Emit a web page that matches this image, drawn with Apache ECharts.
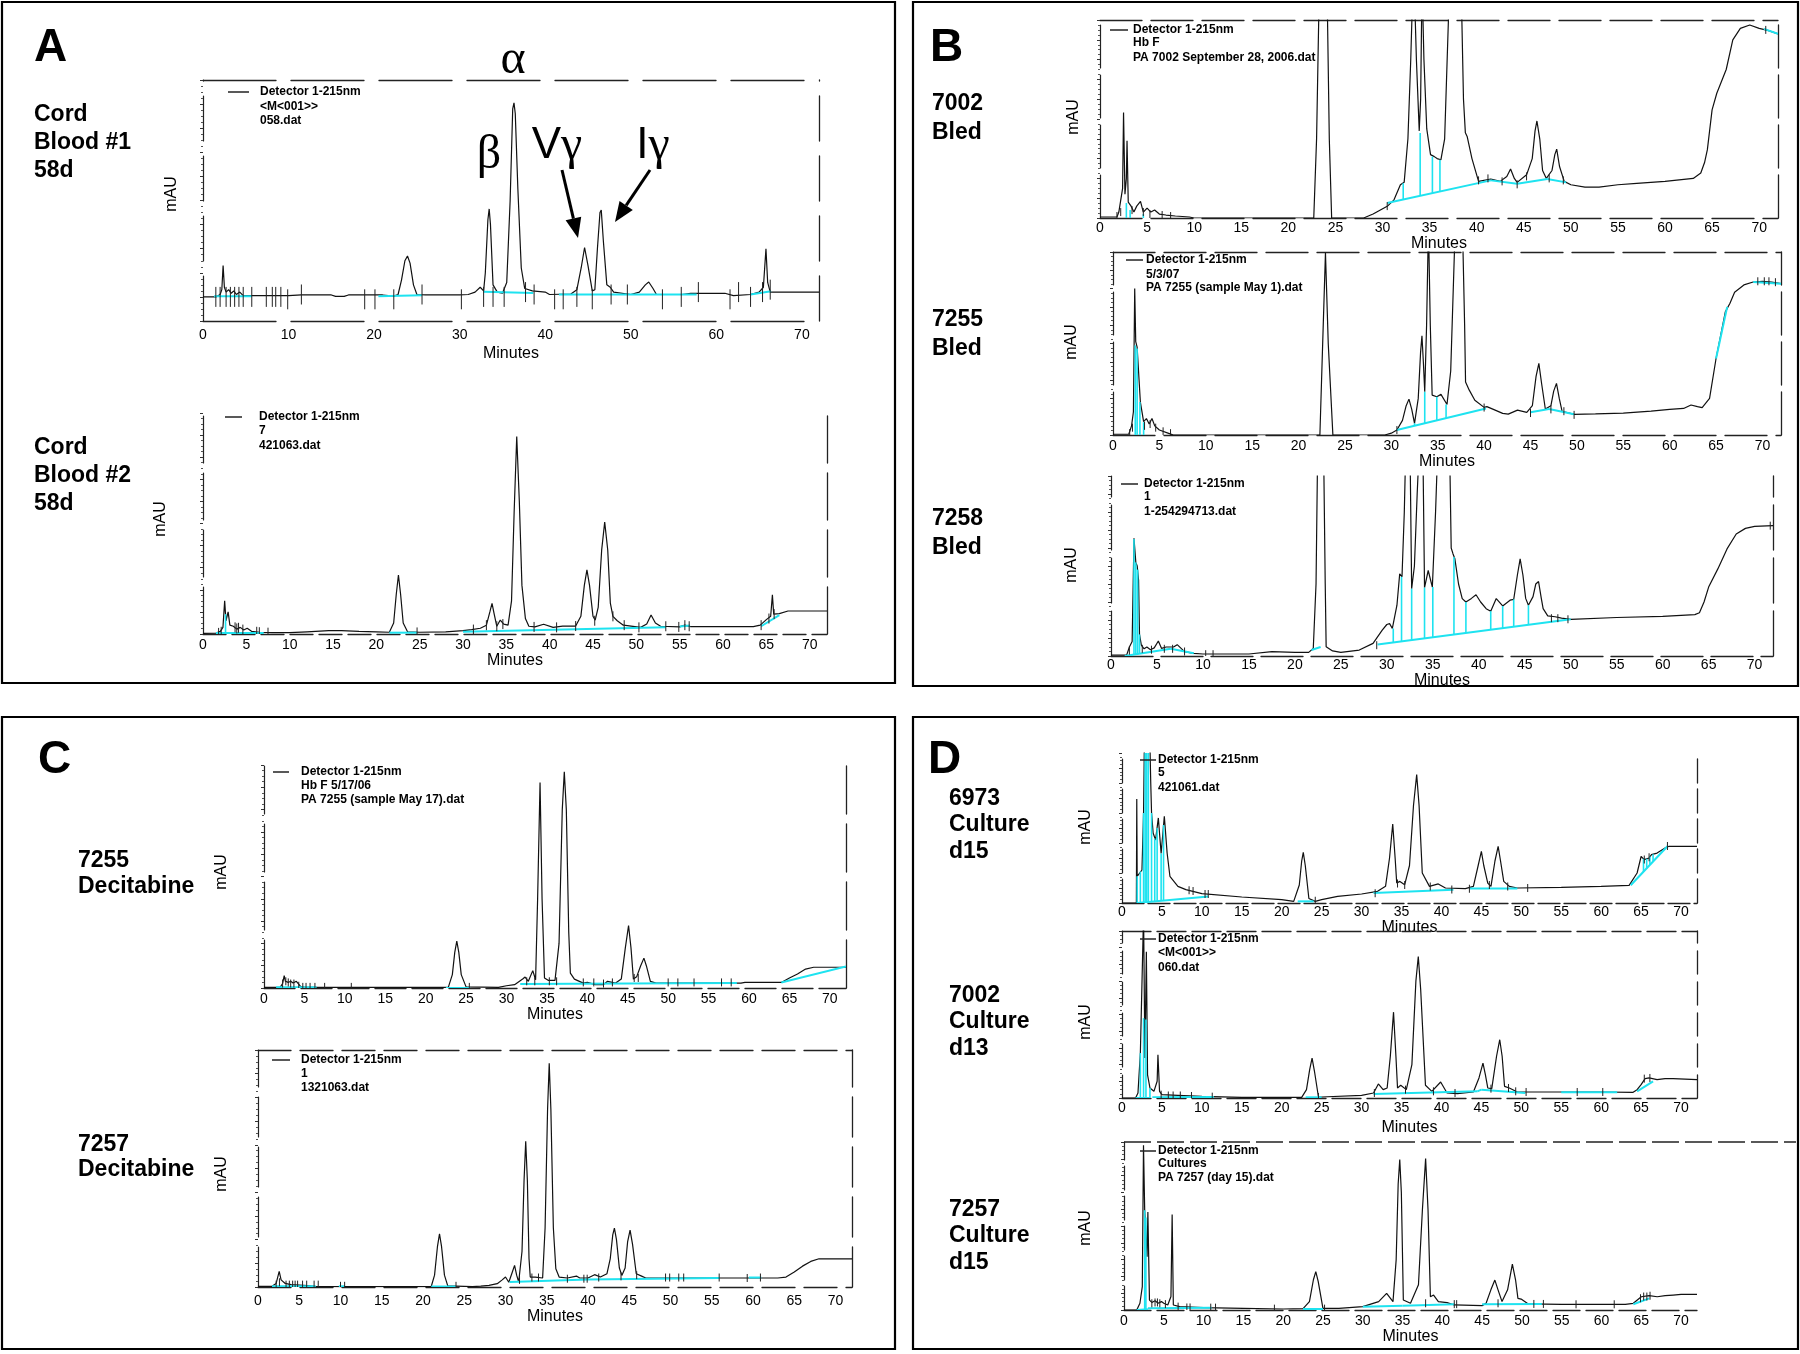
<!DOCTYPE html>
<html><head><meta charset="utf-8">
<script src="https://cdn.jsdelivr.net/npm/echarts@6/dist/echarts.min.js"></script>
<style>html,body{margin:0;padding:0;background:#fff}#c{width:1800px;height:1354px}</style>
</head><body><div id="c"></div>
<script>
// ---------------- DATA (minutes, relative mAU 0-100 of panel height) ----------------
const A1_trace=[[0,10],[1.5,10],[2.0,11],[2.2,13],[2.35,23],[2.5,14],[2.7,12],[3.0,13],[3.3,11.5],[3.6,12.5],[3.9,11],[4.3,12],[4.7,10.5],[6,10.5],[10,10.5],[11.5,10.8],[15,10.8],[15.5,10.2],[16.5,10.2],[17,10.8],[21,10.8],[22.3,10.3],[22.8,11],[23.2,17],[23.6,25],[23.9,27],[24.2,24],[24.6,15],[25,11],[26,10.8],[30,10.8],[31,11],[31.8,12],[32.4,14],[32.8,12.5],[33.0,20],[33.3,42],[33.45,46.5],[33.6,40],[33.9,15],[34.4,12],[35,11.5],[35.5,16],[35.9,50],[36.2,88],[36.35,90.5],[36.5,86],[36.8,55],[37.2,22],[37.6,13.5],[38.5,12.5],[40,12],[40.5,11],[43,11.2],[43.7,13],[44.2,22],[44.6,30.5],[45,23],[45.5,12.5],[45.8,13],[46.1,30],[46.4,45],[46.55,46],[46.8,33],[47.2,15],[47.6,14],[48,12],[50,11],[51,12],[51.7,15],[52.1,16.2],[52.6,13.5],[53,11],[56,11],[57,11.5],[61,11.5],[62,10.5],[64,11],[65,12],[65.5,14],[65.8,30],[66,16],[66.3,12],[72,12]];
const A1_base=[[1.3,10.3,5.7,10.3],[20.5,10.3,25.6,10.7],[32.8,12.1,38.6,11.6],[41.6,11,57.7,11],[64,11,66.4,12.3]];
const A1_drops=[];
const A1_events=[[1.5,10],[2.0,10],[2.7,10],[3.2,10],[3.7,10],[4.2,10],[4.7,10],[5.7,10],[7.4,10],[8.1,10],[8.5,10],[9.1,10],[9.9,9],[11.5,11],[18.9,9],[20.1,9],[22.3,9],[25.6,11],[30.2,9],[32.8,10],[33.9,10],[35.2,10],[37.7,12],[38.7,11],[41.1,9],[42.1,9],[43.7,10],[45.5,9],[47.7,11],[49.6,11],[53.7,9],[55.9,10],[57.9,12],[61.6,9],[62.6,12],[64.0,10],[65.4,12],[66.3,13]];

const A2_trace=[[0,0.3],[1.5,0.4],[2.0,1.2],[2.3,3],[2.5,15],[2.65,6],[2.9,10],[3.1,4],[3.5,3.5],[3.9,2.2],[4.3,3],[4.7,1.8],[5.1,2.6],[5.6,1.2],[6.5,0.8],[8,0.6],[10,0.6],[12,1],[14.5,1.5],[16,1.5],[18,1.2],[20,1],[21.5,0.8],[22.0,5],[22.3,18],[22.55,26.7],[22.8,18],[23.1,5],[23.6,1],[25,0.8],[28,1],[30,1.5],[31,2],[32,2.6],[32.7,4],[33.1,10],[33.35,13.9],[33.6,9],[33.9,3.5],[34.3,6.3],[34.7,4.5],[35.2,4],[35.6,15],[35.9,55],[36.2,89.4],[36.5,60],[36.8,22],[37.2,7],[37.6,3.5],[38.3,3.2],[39.3,4.4],[40.4,3],[41.5,3.6],[43,3.6],[43.6,8],[44.0,22],[44.3,29],[44.6,22],[45.0,8],[45.25,6.3],[45.6,12],[46.0,38],[46.35,50.6],[46.7,38],[47.0,14],[47.3,8],[47.8,6],[48.5,4],[50.5,3],[51.2,4.5],[51.7,8.6],[52.2,5],[52.8,3.5],[55.0,3.2],[55.6,4],[56.3,3.3],[63.5,3.3],[64.3,4],[65,6.5],[65.5,8],[65.7,17.7],[65.85,9],[66.5,9.2],[67.5,10.4],[72,10.4]];
const A2_base=[[1.5,0.5,7,0.5],[21.5,0.6,24.7,0.6],[30,1,53.4,3],[55,3.4,56.2,3.8],[64.4,3.5,66.5,8.5]];
const A2_drops=[[2.6,0.5,9]];
const A2_events=[[1.8,0.5],[2.1,1],[3.7,3],[3.9,2.5],[4.1,2.8],[4.6,2],[6.2,1],[6.5,0.8],[7.5,0.6],[24.7,0.7],[31.2,2],[32.7,4],[33.9,3.5],[34.6,4.5],[38.2,3.2],[40.8,3],[43.0,3.6],[45.2,6],[47.3,8],[48.6,4],[50.3,3],[53.4,3.5],[54.9,3.2],[55.6,4],[56.1,3.5],[64.4,4],[65.3,7],[65.9,9]];

const B1_trace=[[0,0.5],[0.1,1.5],[0.2,0.5],[1.8,0.5],[2.0,3],[2.2,4],[2.4,15],[2.5,53.3],[2.65,12],[2.8,20],[2.87,39],[3.0,8],[3.3,6],[3.6,3],[3.9,6],[4.3,8.4],[4.6,3],[5.0,5],[5.4,3],[5.8,4],[6.3,2],[7,1.5],[8,1],[9.5,0.5],[10,0],[22.7,0],[23.0,40],[23.3,120],[23.7,135],[24.1,120],[24.35,40],[24.6,0],[28.0,0],[29,2],[30.5,5.9],[31.2,9],[31.9,16.8],[32.3,18],[32.7,40],[33.0,80],[33.3,130],[33.6,80],[33.9,44],[34.05,60],[34.2,120],[34.4,80],[34.7,45],[35.1,32],[35.5,31],[35.8,30],[36.2,29.4],[36.6,40],[37.0,100],[37.3,130],[38.3,130],[38.6,60],[38.8,43],[39.0,41],[39.5,30],[40.2,18.5],[41.5,19.7],[42.5,18.5],[43.2,21],[43.6,24.7],[44.0,20],[44.3,18],[45.3,21.8],[45.9,30],[46.2,44],[46.4,49],[46.7,40],[47.0,24],[47.4,20],[48.0,24],[48.3,32],[48.5,34.8],[48.8,26],[49.3,18.5],[50,16.8],[51.5,15.6],[53,15.6],[55,16.8],[57,17.5],[60,18.5],[63,20],[63.8,22.7],[64.2,28],[64.5,34.5],[65,54.6],[65.5,63],[66.5,75],[67.2,90],[68,95.8],[69,97.5],[70,95.8],[71,94.6],[72,93]];
const B1_base=[[30.5,7.6,41.5,19],[41.5,19,44.3,17.3],[44.3,17.3,47.5,19.7],[47.5,19.7,49.5,18],[70.5,95.5,72,93]];
const B1_drops=[[2.8,0,7.6],[3.2,0,4],[4.6,0,2],[32.2,9.4,17.6],[34.0,11.2,42.9],[35.3,12.6,31],[36.1,13.4,29.4]];
const B1_events=[[1.8,1],[2.2,3],[3.4,4],[4.6,3],[5.3,2],[6.6,1.5],[7.5,1],[30.5,6],[40.2,19],[41.2,20],[42.7,18.5],[44.3,17],[45.3,21],[47.7,20],[49.2,19],[70.7,95]];

const B2_trace=[[0,0.4],[1.7,0.4],[2.0,5],[2.2,12.7],[2.34,80],[2.45,51],[2.6,48],[2.7,47.3],[2.95,18],[3.3,7.3],[3.6,9],[3.9,6],[4.2,9],[4.5,5],[5.0,2.7],[6.0,0.9],[6.5,0],[22.3,0],[22.6,50],[22.9,99.6],[23.2,50],[23.7,0],[29.3,0],[30.0,1],[30.6,2.7],[31.2,8],[31.6,16],[31.9,19.6],[32.2,14],[32.5,6.4],[32.9,20],[33.15,45],[33.3,54.2],[33.45,40],[33.6,23.6],[33.8,60],[34.0,115],[34.2,60],[34.4,21.8],[34.9,20.9],[35.35,22.2],[36.0,16.7],[36.4,35],[36.8,100],[37.0,130],[37.6,130],[37.9,60],[38.0,29],[38.4,24.5],[39.0,19],[40.0,15.1],[40.3,15.5],[41,14],[42,11.8],[42.6,11.4],[43.6,13.6],[44.6,12.4],[45.2,16],[45.6,32],[45.9,39.1],[46.2,28],[46.6,14.2],[47.2,16],[47.5,24],[47.8,28.2],[48.1,20],[48.4,13],[49.7,11.3],[52,11.5],[55,12],[58,13],[60,14],[61.5,14.5],[62.3,16.4],[63.0,15.5],[63.5,15],[64.3,20],[65,41.8],[66,67.3],[66.5,72],[67,78],[68,82],[69,83.6],[70,84],[71,83.5],[72,82.7]];
const B2_base=[[30.6,2.7,40.2,14.5],[45,12.4,47,14.2],[47,14.2,49.7,11.3],[65,41.8,66.2,70],[69,83.6,72,82.7]];
const B2_drops=[[2.4,0,49],[2.6,0,47.3],[2.9,0,18],[3.3,0,7],[32.5,5.0,6.4],[33.6,6.4,23.6],[34.9,8,20.9],[35.9,9.2,16.7]];
const B2_events=[[1.8,1],[2.1,4],[3.4,5],[4.0,6],[4.6,4],[5.4,2],[6.2,1],[30.6,2.7],[40.0,15],[45.0,12],[47.2,14],[48.6,13],[49.7,11],[69.5,84],[70.2,84],[70.7,84],[71.4,83.5]];

const B3_trace=[[0,0.5],[1.7,0.5],[2.0,5],[2.3,8],[2.5,65.4],[2.7,52],[2.85,50],[3.0,42],[3.1,12],[3.3,6],[3.6,4],[3.9,5],[4.3,3.5],[4.7,4.5],[5.15,8.3],[5.5,4.2],[6.0,5],[6.8,5],[7.2,6.3],[8.0,2.4],[9,1.5],[10,1.1],[15,1.1],[17.5,2.4],[20,2],[21.5,2],[22.0,4.2],[22.3,40],[22.5,125],[23.1,125],[23.3,40],[23.4,5.2],[24.1,2.8],[25,2],[27,3.3],[28.5,7],[29.5,14.4],[30.0,17.5],[30.3,18],[30.6,15.3],[31.1,28.2],[31.4,45.7],[31.65,44],[31.9,80],[32.1,125],[32.5,125],[32.7,37.4],[33.0,50],[33.3,90],[33.6,125],[33.9,125],[34.1,38],[34.5,47.5],[34.95,38.3],[35.3,80],[35.6,125],[36.8,125],[37.0,60],[37.2,56.7],[37.4,54],[37.8,40],[38.2,31.9],[38.6,30],[39.2,32],[39.7,34],[40.2,30],[40.8,26.3],[41.3,24.9],[41.9,31.9],[42.6,27.8],[43.4,31],[43.8,31.5],[44.2,45],[44.5,54],[44.8,45],[45.1,32],[45.4,28.2],[45.9,33],[46.2,40],[46.5,41.4],[46.8,32],[47.0,26.3],[47.5,22.3],[48.3,21.8],[49,21],[50,20.4],[55,21.4],[60,22],[63.5,23],[64,24],[64.5,30],[65,38.3],[66,48.4],[67,59.5],[68,67.8],[69,70.9],[70,72],[72,72.4]];
const B3_base=[[1.5,0,6.5,4],[6.5,4,9,1.5],[21.8,3.3,22.8,5],[29,6.4,50,20.4]];
const B3_drops=[[2.5,0.8,65],[2.7,0.9,52],[2.9,1,48],[3.1,1.1,12],[30.7,7.5,15.3],[31.6,8.1,44],[32.7,8.9,37.4],[34.1,9.8,38],[35.0,10.4,38.3],[37.3,11.9,55],[38.6,12.8,30],[41.3,14.6,24.9],[42.6,15.5,27.8],[43.8,16.3,31.5],[45.4,17.3,28.2]];
const B3_events=[[2.0,3],[3.4,4],[4.4,3.5],[5.8,4],[6.7,4],[8.0,2.5],[10.3,1],[11.1,1],[28.9,6],[47.9,21],[48.6,21],[49.7,20.4],[71.7,72.4]];

const C1_trace=[[0,0.3],[2.0,0.3],[2.3,2],[2.5,5.5],[2.65,3],[2.8,3.7],[3.0,2.5],[3.3,3],[3.6,2.2],[4.0,3],[4.5,0.8],[5.0,0.3],[22.8,0.3],[23.3,6],[23.6,16],[23.85,21],[24.1,16],[24.4,6],[25,0.5],[29,0.3],[30,1],[31,1.5],[32,4],[32.3,4.9],[32.7,3],[33.25,7.8],[33.6,3.7],[33.85,40],[34.15,92.2],[34.4,40],[34.7,4.5],[35.2,3.4],[36,3.4],[36.5,20],[36.9,80],[37.15,97],[37.4,80],[37.7,25],[37.9,6.7],[38.4,4],[39.5,2.2],[40,2.5],[41,1.5],[42,1.5],[42.5,3],[43.5,2.2],[44.2,4],[44.7,18],[45.1,28],[45.4,18],[45.7,4],[46.1,5],[46.6,10],[47.0,13.4],[47.3,10],[47.8,3],[48.5,2.2],[59,2.2],[59.5,2.5],[64,2.5],[65,4.5],[66,6.3],[67,8.5],[68,9.3],[72,9.3]];
const C1_base=[[1.5,0.3,6.5,0.3],[22.5,0,25.5,0],[31.7,1.8,58.5,2.2],[64,2.5,72,9.7]];
const C1_drops=[];
const C1_events=[[2.3,2],[2.7,3],[3.0,2.5],[3.3,2],[3.7,2],[4.3,1],[4.8,0.5],[5.2,0.5],[5.7,0.5],[6.3,0.5],[7.5,0.5],[10.8,0.5],[25.4,0.5],[32.5,3],[33.5,3],[35.3,3],[36.2,3],[39.5,2.5],[40.8,2.5],[42,2],[43.1,2.5],[45.8,4.5],[46.3,4.5],[50,2.5],[51.2,2.5],[53.2,2.5],[56.6,2.5],[57.8,2.5]];

const C2_trace=[[0,0.3],[1.7,0.3],[2.2,1.5],[2.57,6.6],[2.8,3],[3.0,3.5],[3.3,1.5],[4,1],[6,0.6],[7,0.2],[21,0.2],[21.4,5],[21.75,17],[22.0,22.4],[22.25,17],[22.6,5],[23,0.5],[26,0.2],[27,0.4],[28,0.7],[29,1.4],[29.6,3],[30.0,4.2],[30.4,2],[30.8,6],[31.1,9.1],[31.35,5],[31.6,2.1],[32.0,15],[32.25,45],[32.45,61.5],[32.65,45],[32.85,12],[33.0,4.2],[33.6,4.2],[34.5,3.8],[34.8,25],[35.1,75],[35.3,94.4],[35.5,75],[35.8,25],[36.1,7.7],[36.5,4.2],[37.5,3.8],[38.6,4.6],[39,3.8],[40,3.8],[40.8,5.2],[41.5,4.2],[42.3,5.6],[42.7,12],[43.0,22],[43.2,24.8],[43.45,20],[43.8,8],[44.1,4.9],[44.5,8],[44.8,19],[45.1,24],[45.4,18],[45.85,5.6],[46.5,4.6],[47,3.8],[63,3.8],[64,4.2],[65,6.3],[66,8.8],[67,10.8],[68,11.9],[72,11.9]];
const C2_base=[[1.7,0.3,7,0.3],[9.8,0.3,10.5,0.3],[21,0.2,24,0.2],[30.5,2.1,40,3.2],[40,3.2,56,3.8],[59.5,4,61,4]];
const C2_drops=[];
const C2_events=[[2.2,1],[2.6,2],[3.4,1],[3.8,1],[4.2,1],[4.5,1],[4.8,1],[5.4,1],[5.9,1],[6.8,1],[7.3,1],[10.0,0.5],[10.5,0.5],[24,0.5],[31.7,3],[33.2,4],[34.0,4],[37.5,3.5],[39.5,3.5],[39.9,3.5],[41.3,4],[44.0,4.5],[45.9,5],[49.4,4],[49.9,4],[51.0,4],[51.6,4],[55.9,4],[59.3,3.8],[60.9,4]];

const D1_trace=[[0,0],[1.8,0],[1.85,69.3],[1.9,17.8],[2.0,19],[2.5,22],[2.7,60],[2.85,130],[3.4,130],[3.6,80],[3.7,60],[3.9,46.7],[4.2,42],[4.55,56.7],[4.9,33],[5.3,57.8],[5.65,33.3],[6.0,17.8],[7,11.1],[8,8.9],[10,6.2],[15,4],[20,2.2],[21.5,1.1],[22.2,12],[22.5,28],[22.7,33.8],[22.95,25],[23.4,3],[24.2,1.1],[25,2.2],[27,4.4],[30,6],[32,7.8],[33,11.1],[33.5,30],[33.9,52.7],[34.2,30],[34.4,13.3],[34.8,14.4],[35.4,12.2],[36.0,25],[36.5,65],[36.9,85.6],[37.2,65],[37.6,20],[38.5,11.1],[39.6,12.7],[40.5,10],[43,9.6],[44,11.1],[44.6,25],[45.0,34.4],[45.3,25],[45.8,13.3],[46.2,11.1],[46.7,28],[47.1,37.8],[47.4,28],[47.8,14.4],[48.5,11.1],[49.5,10],[55,10.4],[60,11.1],[63.5,11.8],[64.5,20],[65,31],[65.4,28.9],[66,30],[66.3,32.2],[67,33.3],[68,36.7],[68.5,37.8],[72,37.8]];
const D1_base=[[1.9,0,10.8,4.4],[22,1.1,24,1.1],[31.5,6.7,41.5,8.9],[43.5,9.6,49.5,9.6],[63.7,11.8,68.3,37.8]];
const D1_drops=[[1.9,0,17.8],[2.3,0.2,21],[2.7,0.4,60],[2.9,0.5,130],[3.1,0.6,130],[3.3,0.7,130],[3.7,0.9,60],[4.1,1.1,43],[4.4,1.2,50],[4.9,1.5,33],[5.2,1.6,52],[65.3,20.8,29.5],[65.7,23.1,29.5],[66.1,25.4,31],[66.5,27.6,32.5]];
const D1_events=[[8.4,8.5],[8.9,8],[10.4,6],[10.8,6],[24.2,1.5],[31.7,6.5],[34.5,13],[35.4,12],[38.6,11],[41.3,9],[43.5,9.5],[46.0,12],[48.3,11],[50.8,10],[65.4,29],[66,30.5],[68.3,38]];

const D2_trace=[[0,0],[1.7,0],[2.0,3],[2.3,26.9],[2.5,27.9],[2.7,110],[2.87,23.9],[3.05,87.6],[3.2,13.9],[3.5,6],[4,4],[4.4,10],[4.5,25.9],[4.7,4],[5,2],[7,1.6],[10,1],[15,0.4],[22.5,0.4],[23.1,5],[23.5,17],[23.8,23.9],[24.1,16],[24.6,0.6],[25,0.6],[30,1.6],[31.5,3],[32.1,8.4],[32.7,5],[33.2,6],[33.6,25],[34.0,51.4],[34.3,25],[34.5,6],[34.9,7.6],[35.6,5],[36.3,20],[36.8,70],[37.1,84.7],[37.4,65],[38.0,7.6],[38.8,4],[39.9,9.6],[40.7,3],[42,2.6],[44,3.6],[44.7,12],[45.2,20.9],[45.5,14],[45.8,6],[46.3,5.6],[46.9,25],[47.3,34.9],[47.6,25],[47.9,7],[48.5,6],[49.5,3.6],[60,3.6],[64,3.4],[64.5,5],[65,8],[65.5,11.6],[66,12],[67,11],[68,11.6],[69,11.6],[72,11]];
const D2_base=[[1.7,0,3.5,0],[3.8,0.4,11.5,0.6],[23,0.4,25,0.4],[31.5,2.4,44.5,4],[44.5,4,45,5],[45,5,50.5,3],[55,3.4,62,3.4],[64.5,4,66.5,10]];
const D2_drops=[[2.3,0,26.9],[2.7,0,47.8],[3.0,0,47],[3.5,0.2,6]];
const D2_events=[[4.9,2],[5.8,1.5],[6.4,1.5],[7.3,1.5],[8.7,1.2],[11.3,0.8],[24.6,0.6],[31.6,3],[35.5,5],[39.0,4],[41.7,3],[46.2,5.6],[48.4,6],[49.3,4],[50.6,3.6],[57,3.6],[60.2,3.6],[65.4,11.6],[66.1,12]];

const D3_trace=[[0,0],[1.6,0],[1.7,1],[2.0,4],[2.3,13.9],[2.45,98],[2.6,59.4],[2.75,60.4],[2.9,31.7],[3.0,58.4],[3.2,5.9],[3.5,4.5],[3.9,5.5],[4.3,4],[4.7,5],[5.0,4],[5.5,3],[5.9,8],[6.05,56.8],[6.2,3],[7,2],[10,1.4],[15,1],[20,0.6],[22.5,0.8],[23.3,5],[23.8,18],[24.1,22.8],[24.4,17],[25,1],[27,1],[30,2],[32,5],[33.0,9.9],[33.8,5],[34.2,30],[34.45,75],[34.65,89.5],[34.85,70],[35.1,6],[36,4],[37.0,15],[37.5,60],[37.9,90.1],[38.2,60],[38.5,7.9],[38.9,8.9],[39.5,5],[40.6,4.4],[41.5,3],[45,2.6],[45.5,4],[46.1,12],[46.6,17.8],[47.0,12],[47.5,5],[48.2,12],[48.8,27.3],[49.2,18],[49.5,6.9],[49.9,6.5],[50.8,3.6],[55,3.4],[63,3.4],[64,4],[65,7.9],[66,8.5],[67,7.9],[68,8.5],[69,8.9],[70,9.3],[72,9.3]];
const D3_base=[[1.6,0,3,0.4],[3,1,11,1.4],[22.5,0.6,25,0.6],[30,2,35,2.6],[35,2.6,41.5,3.4],[45,3.4,52.5,3.6],[64,3.4,66,6.9]];
const D3_drops=[[2.6,0.2,59.4],[2.75,0.3,55]];
const D3_events=[[3.5,4],[3.9,4.5],[4.2,4.5],[4.5,4],[5.2,3.5],[6.8,2],[7.9,1.5],[8.3,1.5],[10.9,1.4],[11.5,1.4],[18.9,0.8],[25.2,0.8],[37.9,4],[41.5,3.5],[41.8,3.5],[47.0,4],[51.5,3.6],[52.7,3.6],[56.8,3.4],[61.6,3.4],[64.9,7],[65.3,8],[65.7,8],[66.1,8.5]];

// text content
const legendA1=['Detector 1-215nm','<M<001>>','058.dat'];
const legendA2=['Detector 1-215nm','7','421063.dat'];
const legendB1=['Detector 1-215nm','Hb F','PA 7002 September 28, 2006.dat'];
const legendB2=['Detector 1-215nm','5/3/07','PA 7255 (sample May 1).dat'];
const legendB3=['Detector 1-215nm','1','1-254294713.dat'];
const legendC1=['Detector 1-215nm','Hb F 5/17/06','PA 7255 (sample May 17).dat'];
const legendC2=['Detector 1-215nm','1','1321063.dat'];
const legendD1=['Detector 1-215nm','5','421061.dat'];
const legendD2=['Detector 1-215nm','<M<001>>','060.dat'];
const legendD3=['Detector 1-215nm','Cultures','PA 7257 (day 15).dat'];
const sampleLabels=['Cord\nBlood #1\n58d','Cord\nBlood #2\n58d','7002\nBled','7255\nBled','7258\nBled','7255\nDecitabine','7257\nDecitabine','6973\nCulture\nd15','7002\nCulture\nd13','7257\nCulture\nd15'];
const panelLetters=['A','B','C','D'];
const peakNames=[['','α'],['','β'],['V','γ'],['I','γ']];
const xMin=0, xMax=72;

// ---------------- LAYOUT / STYLE ----------------
const F='"Liberation Sans", Arial, Helvetica, sans-serif';
const FS='"Liberation Serif", "Times New Roman", serif';
const CYAN='#1ee3f0';
const plots=[
 {trace:A1_trace,base:A1_base,drops:A1_drops,events:A1_events,legend:legendA1,evLen:20,xStep:10,
  g:[203,80,616,241],top:true,right:true,dx:[73,15],dy:[45,15],lm:7,ng:25,lg:[228,249,260,[92,107,121]],mau:[172,194],lab:[34,101,28]},
 {trace:A2_trace,base:A2_base,drops:A2_drops,events:A2_events,legend:legendA2,evLen:10,xStep:5,
  g:[203,413,624,221],top:false,right:true,dx:[23,6],dy:[47,10],lm:4,ng:19,lg:[225,242,259,[417,431,446]],mau:[161,519],lab:[34,434,28]},
 {trace:B1_trace,base:B1_base,drops:B1_drops,events:B1_events,legend:legendB1,evLen:8,xStep:5,
  g:[1100,20,678,198],top:true,right:true,dx:[42,9],dy:[43,7],lm:3,ng:14,lg:[1110,1128,1133,[30,43,58]],mau:[1074,117],lab:[932,89,29]},
 {trace:B2_trace,base:B2_base,drops:B2_drops,events:B2_events,legend:legendB2,evLen:8,xStep:5,
  g:[1113,252,668,183],top:true,right:true,dx:[42,9],dy:[43,7],lm:4,ng:14,lg:[1126,1143,1146,[260,275,288]],mau:[1072,342],lab:[932,305,29]},
 {trace:B3_trace,base:B3_base,drops:B3_drops,events:B3_events,legend:legendB3,evLen:8,xStep:5,
  g:[1111,476,662,180],top:false,right:true,dx:[42,8],dy:[45,8],lm:2,ng:15,lg:[1121,1138,1144,[484,497,512]],mau:[1072,565],lab:[932,504,29]},
 {trace:C1_trace,base:C1_base,drops:C1_drops,events:C1_events,legend:legendC1,evLen:8,xStep:5,
  g:[264,765,582,223],top:false,right:true,dx:[31,6],dy:[48,10],lm:4,ng:18,lg:[273,289,301,[772,786,800]],mau:[222,872],lab:[78,848,26]},
 {trace:C2_trace,base:C2_base,drops:C2_drops,events:C2_events,legend:legendC2,evLen:8,xStep:5,
  g:[258,1050,594,237],top:true,right:true,dx:[33,9],dy:[40,10],lm:7,ng:20,lg:[272,290,301,[1060,1074,1088]],mau:[222,1174],lab:[78,1132,25]},
 {trace:D1_trace,base:D1_base,drops:D1_drops,events:D1_events,legend:legendD1,evLen:8,xStep:5,
  g:[1122,753,575,150],top:false,right:true,dx:[22,4],dy:[24,6],lm:2,ng:10,lg:[1140,1156,1158,[760,773,788]],mau:[1086,827],lab:[949,785,26.5]},
 {trace:D2_trace,base:D2_base,drops:D2_drops,events:D2_events,legend:legendD2,evLen:8,xStep:5,
  g:[1122,931,575,167],top:true,right:true,dx:[29,6],dy:[23,8],lm:3,ng:22,lg:[1140,1156,1158,[939,953,968]],mau:[1086,1022],lab:[949,982,26.5]},
 {trace:D3_trace,base:D3_base,drops:D3_drops,events:D3_events,legend:legendD3,evLen:8,xStep:5,
  g:[1124,1142,573,168],top:false,right:false,dx:[27,6],dy:[24,6],lm:4,ng:19,lg:[1140,1156,1158,[1151,1164,1178]],mau:[1086,1228],lab:[949,1196,26.5]}
];

const grids=[],xAxes=[],yAxes=[],series=[],els=[];
plots.forEach((p,i)=>{
  grids.push({left:p.g[0],top:p.g[1],width:p.g[2],height:p.g[3],containLabel:false});
  const xi=xAxes.length;
  xAxes.push({type:'value',gridIndex:i,min:xMin,max:xMax,interval:p.xStep,position:'bottom',
    axisLine:{show:true,onZero:false,lineStyle:{color:'#222',width:1.3,type:p.dx}},
    axisTick:{show:false},splitLine:{show:false},
    axisLabel:{show:true,margin:p.lm,fontSize:14,color:'#000',fontFamily:F,showMaxLabel:false,
      formatter:v=>(v%p.xStep===0?String(v):'')},
    name:'Minutes',nameLocation:'middle',nameGap:p.ng,nameTextStyle:{fontSize:16,fontFamily:F,color:'#000'}});
  if(p.top) xAxes.push({type:'value',gridIndex:i,min:xMin,max:xMax,position:'top',
    axisLine:{show:true,onZero:false,lineStyle:{color:'#222',width:1.3,type:p.dx}},
    axisTick:{show:false},axisLabel:{show:false},splitLine:{show:false}});
  const yi=yAxes.length;
  yAxes.push({type:'value',gridIndex:i,min:0,max:100,interval:10,position:'left',
    axisLine:{show:true,onZero:false,lineStyle:{color:'#222',width:1.2,type:p.dy}},
    axisTick:{show:true,length:3,lineStyle:{color:'#333'}},
    minorTick:{show:true,splitNumber:4,length:2,lineStyle:{color:'#555'}},
    axisLabel:{show:false},splitLine:{show:false}});
  if(p.right) yAxes.push({type:'value',gridIndex:i,min:0,max:100,position:'right',
    axisLine:{show:true,onZero:false,lineStyle:{color:'#222',width:1.3,type:p.dy}},
    axisTick:{show:false},axisLabel:{show:false},splitLine:{show:false}});

  series.push({type:'line',xAxisIndex:xi,yAxisIndex:yi,data:p.trace,symbol:'none',showSymbol:false,
    lineStyle:{color:'#111',width:1.2},clip:true,z:3,silent:true});
  series.push({type:'custom',xAxisIndex:xi,yAxisIndex:yi,data:p.base,encode:{x:[0,2],y:[1,3]},clip:true,z:4,silent:true,
    renderItem:(params,api)=>{const a=api.coord([api.value(0),api.value(1)]),b=api.coord([api.value(2),api.value(3)]);
      return {type:'line',shape:{x1:a[0],y1:a[1],x2:b[0],y2:b[1]},style:{stroke:CYAN,lineWidth:2}};}});
  series.push({type:'custom',xAxisIndex:xi,yAxisIndex:yi,data:p.drops,encode:{x:0,y:[1,2]},clip:true,z:4,silent:true,
    renderItem:(params,api)=>{const a=api.coord([api.value(0),api.value(1)]),b=api.coord([api.value(0),api.value(2)]);
      return {type:'line',shape:{x1:a[0],y1:a[1],x2:b[0],y2:b[1]},style:{stroke:CYAN,lineWidth:1.6}};}});
  const L=p.evLen;
  series.push({type:'custom',xAxisIndex:xi,yAxisIndex:yi,data:p.events,encode:{x:0,y:1},clip:true,z:5,silent:true,
    renderItem:(params,api)=>{const a=api.coord([api.value(0),api.value(1)]);
      return {type:'line',shape:{x1:a[0],y1:a[1]-L/2,x2:a[0],y2:a[1]+L/2},style:{stroke:'#222',lineWidth:1}};}});

  // legend
  els.push({type:'line',shape:{x1:p.lg[0],y1:p.lg[3][0],x2:p.lg[1],y2:p.lg[3][0]},style:{stroke:'#222',lineWidth:1.5}});
  p.legend.forEach((t,k)=>els.push({type:'text',x:p.lg[2],y:p.lg[3][k],
    style:{text:t,fontSize:12,fontWeight:'bold',fontFamily:F,fill:'#000',align:'left',verticalAlign:'middle'}}));
  // mAU
  els.push({type:'text',x:p.mau[0],y:p.mau[1],rotation:Math.PI/2,
    style:{text:'mAU',fontSize:16,fontFamily:F,fill:'#000',align:'center',verticalAlign:'middle'}});
  // sample label
  els.push({type:'text',x:p.lab[0],y:p.lab[1],
    style:{text:sampleLabels[i],fontSize:23,fontWeight:'bold',fontFamily:F,fill:'#000',align:'left',verticalAlign:'top',lineHeight:p.lab[2]}});
});

// panel frames and letters
const frames=[[2,2,893,681],[913,2,885,684],[2,717,893,632],[913,717,885,632]];
const letterPos=[[34,48],[930,48],[38,760],[928,760]];
frames.forEach((r,k)=>{
  els.push({type:'rect',shape:{x:r[0],y:r[1],width:r[2],height:r[3]},style:{fill:'none',stroke:'#000',lineWidth:2.2}});
  els.push({type:'text',x:letterPos[k][0],y:letterPos[k][1],style:{text:panelLetters[k],fontSize:46,fontWeight:'bold',fontFamily:F,fill:'#000',align:'left',verticalAlign:'middle'}});
});
// D3 top dashed rule extending to the panel edge
els.push({type:'line',shape:{x1:1124,y1:1142,x2:1796,y2:1142},style:{stroke:'#222',lineWidth:1.3,lineDash:[27,6]}});

// annotations in panel A (Latin part sans, Greek part serif)
const annPos=[[513,60],[489,155],[557,146],[653,146]];
peakNames.forEach((nm,k)=>{
  const txt=(nm[0]?'{s|'+nm[0]+'}':'')+'{g|'+nm[1]+'}';
  els.push({type:'text',x:annPos[k][0],y:annPos[k][1],style:{text:txt,align:'center',verticalAlign:'middle',fill:'#000',
    rich:{s:{fontSize:44,fontFamily:F,fill:'#000'},g:{fontSize:48,fontFamily:FS,fill:'#000'}}}});
});
function arrow(x1,y1,x2,y2){const an=Math.atan2(y2-y1,x2-x1),H=20,W=8;const bx=x2-H*Math.cos(an),by=y2-H*Math.sin(an);
  const nx=-Math.sin(an),ny=Math.cos(an);
  els.push({type:'line',shape:{x1:x1,y1:y1,x2:bx,y2:by},style:{stroke:'#000',lineWidth:3}});
  els.push({type:'polygon',shape:{points:[[x2,y2],[bx+nx*W,by+ny*W],[bx-nx*W,by-ny*W]]},style:{fill:'#000'}});}
arrow(562,170,578,238);
arrow(650,170,615,222);

const chart=echarts.init(document.getElementById('c'),null,{renderer:'canvas'});
chart.setOption({animation:false,backgroundColor:'#fff',grid:grids,xAxis:xAxes,yAxis:yAxes,series:series,
  graphic:{elements:els.map(e=>Object.assign({z:20,silent:true},e))}});
</script></body></html>
